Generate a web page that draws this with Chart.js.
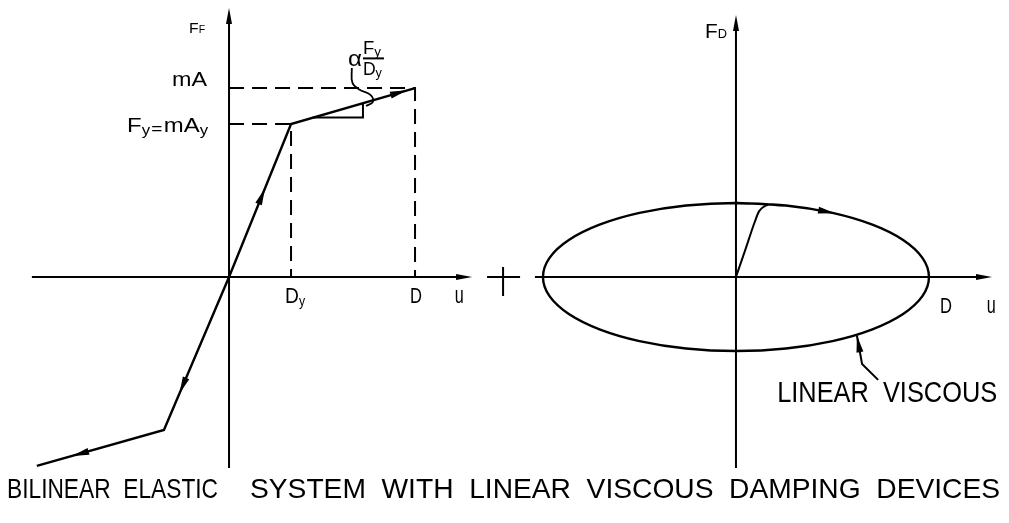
<!DOCTYPE html>
<html>
<head>
<meta charset="utf-8">
<script src="https://cdn.jsdelivr.net/npm/chart.js@4.4.0/dist/chart.umd.min.js"></script>
<style>
  html, body { margin: 0; padding: 0; background: #fff; overflow: hidden; }
  #wrap { position: relative; width: 1009px; height: 523px; }
</style>
</head>
<body>
<div id="wrap"><canvas id="chart" width="1009" height="523"></canvas></div>
<script>
// left panel: bilinear elastic system, u in units of Dy, F in units of Fy
const springU = [-3.1, -1.05, 0, 1, 3];
const springF = [-1.235, -1.0, 0, 1, 1.235];
const peakGuideU = [0, 3, 3];
const peakGuideF = [1.235, 1.235, 0];
const yieldGuideU = [0, 1, 1];
const yieldGuideF = [1, 1, 0];
const slopeTriU = [1.35, 2.16, 2.16];
const slopeTriF = [1.043, 1.043, 1.136];
const alphaLeaderU = [1.98, 1.99, 2.1, 2.28, 2.32, 2.21];
const alphaLeaderF = [1.366, 1.27, 1.225, 1.19, 1.144, 1.118];

// right panel: linear viscous damper loop, u in units of D/3, F in units of max damper force
const loopU = [0, 0.776, 1.5, 2.121, 2.598, 2.898, 3, 2.898, 2.598, 2.121, 1.5, 0.776,
               0, -0.776, -1.5, -2.121, -2.598, -2.898, -3, -2.898, -2.598, -2.121, -1.5, -0.776, 0, 0.776];
const loopF = [1, 0.966, 0.866, 0.707, 0.5, 0.259, 0, -0.259, -0.5, -0.707, -0.866, -0.966,
               -1, -0.966, -0.866, -0.707, -0.5, -0.259, 0, 0.259, 0.5, 0.707, 0.866, 0.966, 1, 0.966];
const startU = [0, 0.15, 0.29, 0.36, 0.5];
const startF = [0, 0.38, 0.74, 0.89, 0.985];
const calloutU = [1.88, 1.96, 2.21];
const calloutF = [-0.79, -1.175, -1.39];

// direction arrows along the curves: [scale set, from u, from F, tip u, tip F]
const arrows = [
  ['L', 0.3, 0.3, 0.58, 0.58],
  ['L', -0.4, -0.381, -0.8, -0.762],
  ['L', -1.6, -1.063, -2.53, -1.17],
  ['L', 2.5, 1.176, 2.87, 1.22],
  ['R', 1.2, 0.917, 1.54, 0.86],
  ['R', 1.96, -1.175, 1.88, -0.79]
];

// axis extents: [scale set, min u, max u, min F, max F]
const axes = [
  ['L', -3.18, 3.92, -1.248, 1.758],
  ['R', -3.125, 3.98, -2.58, 3.54]
];

const FONT = '"Liberation Sans", Arial, sans-serif';

const zip = (us, fs) => us.map((u, i) => ({ x: u, y: fs[i] }));

function line(us, fs, side, extra) {
  return Object.assign({
    data: zip(us, fs),
    xAxisID: 'x' + side, yAxisID: 'y' + side,
    showLine: true, fill: false,
    borderColor: '#000', borderWidth: 2,
    pointRadius: 0, tension: 0
  }, extra || {});
}

function head(ctx, x1, y1, x2, y2, len, half) {
  const a = Math.atan2(y2 - y1, x2 - x1);
  const bx = x2 - len * Math.cos(a), by = y2 - len * Math.sin(a);
  ctx.beginPath();
  ctx.moveTo(x2, y2);
  ctx.lineTo(bx + half * Math.sin(a), by - half * Math.cos(a));
  ctx.lineTo(bx - half * Math.sin(a), by + half * Math.cos(a));
  ctx.closePath();
  ctx.fill();
}

// runs of [text, size, dy] from x on baseline y, squeezed to width w
function runs(ctx, parts, x, y, w) {
  let total = 0;
  parts.forEach(p => { ctx.font = p[1] + 'px ' + FONT; total += ctx.measureText(p[0]).width; });
  const k = w ? w / total : 1;
  ctx.save();
  ctx.translate(x, y);
  ctx.scale(k, 1);
  let cx = 0;
  parts.forEach(p => {
    ctx.font = p[1] + 'px ' + FONT;
    ctx.fillText(p[0], cx, p[2] || 0);
    cx += ctx.measureText(p[0]).width;
  });
  ctx.restore();
}

const drawing = {
  id: 'drawing',
  beforeDraw(chart) {
    const ctx = chart.ctx;
    ctx.save();
    ctx.fillStyle = '#fff';
    ctx.fillRect(0, 0, chart.width, chart.height);
    ctx.restore();
  },
  afterDatasetsDraw(chart) {
    const ctx = chart.ctx, s = chart.scales;
    const px = (side, u) => s['x' + side].getPixelForValue(u);
    const py = (side, f) => s['y' + side].getPixelForValue(f);
    ctx.save();
    ctx.strokeStyle = '#000';
    ctx.fillStyle = '#000';
    ctx.lineWidth = 2;

    axes.forEach(([side, u0, u1, f0, f1]) => {
      const ox = px(side, 0), oy = py(side, 0);
      ctx.beginPath();
      ctx.moveTo(px(side, u0), oy); ctx.lineTo(px(side, u1) - 6, oy);
      ctx.moveTo(ox, py(side, f0)); ctx.lineTo(ox, py(side, f1) + 6);
      ctx.stroke();
      head(ctx, px(side, u0), oy, px(side, u1), oy, 16, 3);
      head(ctx, ox, py(side, f0), ox, py(side, f1), 16, 3);
    });

    arrows.forEach(([side, u0, f0, u1, f1]) => {
      head(ctx, px(side, u0), py(side, f0), px(side, u1), py(side, f1), 17, 3.5);
    });

    // plus sign between the two panels
    const cx = px('L', 4.42), cy = py('L', 0);
    ctx.beginPath();
    ctx.moveTo(cx - 16, cy); ctx.lineTo(cx + 17, cy);
    ctx.moveTo(cx, cy - 10); ctx.lineTo(cx, cy + 19);
    ctx.stroke();

    ctx.textBaseline = 'alphabetic';
    ctx.textAlign = 'left';
    const lx = px('L', 0), ly = py('L', 0);
    runs(ctx, [['F', 15], ['F', 10]], lx - 40, py('L', 1.758) + 25, 16);
    runs(ctx, [['mA', 20]], lx - 57, py('L', 1.235) - 2, 35);
    runs(ctx, [['F', 20], ['y', 14, 3], [' ', 4], ['=', 16, 2], [' ', 4], ['mA', 20], ['y', 14, 3]], lx - 102, py('L', 1) + 8, 81);
    runs(ctx, [['D', 22], ['y', 14, 3]], px('L', 1) - 6, ly + 26, 20);
    runs(ctx, [['D', 22]], px('L', 3) - 5, ly + 26, 12);
    runs(ctx, [['u', 23]], px('L', 3.64), ly + 26, 9);

    // alpha Fy/Dy slope label
    runs(ctx, [['\u03b1', 22]], px('L', 1.92), py('L', 1.37) - 1, 14);
    const fx = px('L', 2.16);
    runs(ctx, [['F', 18], ['y', 13, 2]], fx, py('L', 1.37) - 13, 18);
    runs(ctx, [['D', 18], ['y', 13, 2]], fx, py('L', 1.37) + 8, 19);
    ctx.beginPath();
    ctx.moveTo(fx, py('L', 1.37) - 9); ctx.lineTo(fx + 21, py('L', 1.37) - 9);
    ctx.stroke();

    const rx = px('R', 0), ry = py('R', 0);
    runs(ctx, [['F', 21], ['D', 13]], rx - 31, py('R', 3.54) + 23, 22);
    runs(ctx, [['D', 22]], px('R', 3.17), ry + 36, 12);
    runs(ctx, [['u', 23]], px('R', 3.9), ry + 36, 9);
    runs(ctx, [['LINEAR  VISCOUS', 30]], px('R', 0.64), ry + 125, 220);

    runs(ctx, [['BILINEAR  ELASTIC', 28]], 7, 498, 211);
    runs(ctx, [['SYSTEM  WITH  LINEAR  VISCOUS  DAMPING  DEVICES', 28]], 250, 498, 750);
    ctx.restore();
  }
};

new Chart(document.getElementById('chart'), {
  type: 'scatter',
  data: {
    datasets: [
      line(springU, springF, 'L', { borderWidth: 2.4 }),
      line(peakGuideU, peakGuideF, 'L', { borderDash: [15, 8] }),
      line(yieldGuideU, yieldGuideF, 'L', { borderDash: [15, 8] }),
      line(slopeTriU, slopeTriF, 'L'),
      line(alphaLeaderU, alphaLeaderF, 'L', { tension: 0.4, borderWidth: 1.8 }),
      line(loopU, loopF, 'R', { tension: 0.33, borderWidth: 2.4 }),
      line(startU, startF, 'R', { cubicInterpolationMode: 'monotone' }),
      line(calloutU, calloutF, 'R')
    ]
  },
  options: {
    responsive: false,
    animation: false,
    layout: { padding: 0 },
    plugins: { legend: { display: false }, tooltip: { enabled: false } },
    scales: {
      xL: { type: 'linear', display: false, min: -3.694, max: 12.58 },
      yL: { type: 'linear', display: false, min: -1.608, max: 1.8105 },
      xR: { type: 'linear', display: false, min: -11.44, max: 4.244 },
      yR: { type: 'linear', display: false, min: -3.324, max: 3.743 }
    }
  },
  plugins: [drawing]
});
</script>
</body>
</html>
